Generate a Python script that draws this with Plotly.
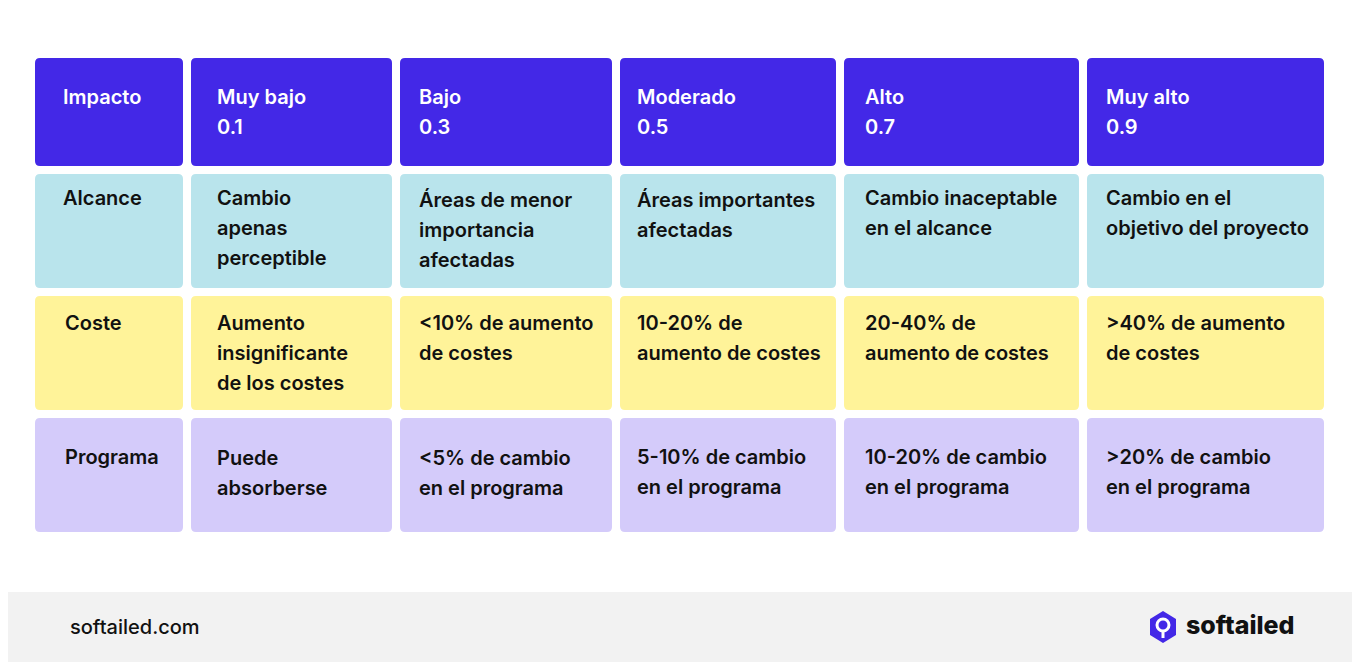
import plotly.graph_objects as go

header = [["Impacto"], ["Muy bajo", "0.1"], ["Bajo", "0.3"], ["Moderado", "0.5"],
          ["Alto", "0.7"], ["Muy alto", "0.9"]]
rows = [
    ["Alcance", ["Alcance"], ["Cambio", "apenas", "perceptible"],
     ["Áreas de menor", "importancia", "afectadas"], ["Áreas importantes", "afectadas"],
     ["Cambio inaceptable", "en el alcance"], ["Cambio en el", "objetivo del proyecto"]],
    ["Coste", ["Coste"], ["Aumento", "insignificante", "de los costes"],
     ["<10% de aumento", "de costes"], ["10-20% de", "aumento de costes"],
     ["20-40% de", "aumento de costes"], [">40% de aumento", "de costes"]],
    ["Programa", ["Programa"], ["Puede", "absorberse"],
     ["<5% de cambio", "en el programa"], ["5-10% de cambio", "en el programa"],
     ["10-20% de cambio", "en el programa"], [">20% de cambio", "en el programa"]],
]
row_colors = ["#4328e7", "#b9e4ec", "#fff399", "#d4cbfa"]

col_edges = [(35, 183), (191, 392), (400, 612), (620, 836), (844, 1079), (1087, 1324)]
text_x = [[61, 215, 417, 635, 863, 1104],
          [61, 215, 417, 635, 863, 1104],
          [63, 215, 417, 635, 863, 1104],
          [63, 215, 417, 635, 863, 1104]]
row_edges = [(58, 166), (174, 288), (296, 410), (418, 532)]
first_line = [[97, 97, 97, 97, 97, 97],
              [198, 198, 200, 200, 198, 198],
              [323, 323, 323, 323, 323, 323],
              [457, 458, 458, 457, 457, 457]]
LINE = 30
FONT = "Inter"
OFF = 8  # page body margin


def rrect(x0, y0, x1, y1, r, color):
    p = (f"M{x0+r},{y0} L{x1-r},{y0} Q{x1},{y0} {x1},{y0+r} L{x1},{y1-r} Q{x1},{y1} {x1-r},{y1} "
         f"L{x0+r},{y1} Q{x0},{y1} {x0},{y1-r} L{x0},{y0+r} Q{x0},{y0} {x0+r},{y0} Z")
    return dict(type="path", path=p, fillcolor=color, line_width=0, xref="x", yref="y", layer="below")


shapes = []
annotations = []
table = [header] + [r[1:] for r in rows]
for ri, (y0, y1) in enumerate(row_edges):
    for ci, (x0, x1) in enumerate(col_edges):
        shapes.append(rrect(x0, y0, x1, y1, 5, row_colors[ri]))
        for li, line in enumerate(table[ri][ci]):
            annotations.append(dict(
                x=text_x[ri][ci], y=first_line[ri][ci] + li * LINE, text=line,
                xanchor="left", yanchor="middle", showarrow=False, xref="x", yref="y",
                font=dict(family=FONT, size=20, weight=600,
                          color="white" if ri == 0 else "#111111")))

# footer
shapes.append(dict(type="rect", x0=0, x1=1400, y0=592, y1=700, fillcolor="#f2f2f2",
                   line_width=0, xref="x", yref="y", layer="below"))
annotations.append(dict(x=68, y=627, text="softailed.com", xanchor="left", yanchor="middle",
                        showarrow=False, font=dict(family=FONT, size=20, weight=500, color="#111111")))
annotations.append(dict(x=1184, y=625, text="softailed", xanchor="left", yanchor="middle",
                        showarrow=False, font=dict(family=FONT, size=25, weight=800, color="#111111")))
# logo
cx, cy = 1163, 627
hexp = (f"M{cx},{cy-16} L{cx+13},{cy-8} L{cx+13},{cy+8} L{cx},{cy+16} "
        f"L{cx-13},{cy+8} L{cx-13},{cy-8} Z")
shapes.append(dict(type="path", path=hexp, fillcolor="#4328e7", line_width=0, xref="x", yref="y"))
shapes.append(dict(type="circle", x0=cx-6, x1=cx+6, y0=cy-8, y1=cy+4, fillcolor="#4328e7",
                   line=dict(color="white", width=3), xref="x", yref="y"))
shapes.append(dict(type="line", x0=cx, x1=cx, y0=cy+5, y1=cy+11,
                   line=dict(color="white", width=3), xref="x", yref="y"))

fig = go.Figure()
fig.update_layout(
    width=1360, height=662, margin=dict(l=0, r=0, t=0, b=0),
    paper_bgcolor="white", plot_bgcolor="white",
    xaxis=dict(range=[OFF, 1360 + OFF], visible=False, fixedrange=True),
    yaxis=dict(range=[662 + OFF, OFF], visible=False, fixedrange=True),
    shapes=shapes, annotations=annotations, showlegend=False,
)
fig.write_html("out.html")
